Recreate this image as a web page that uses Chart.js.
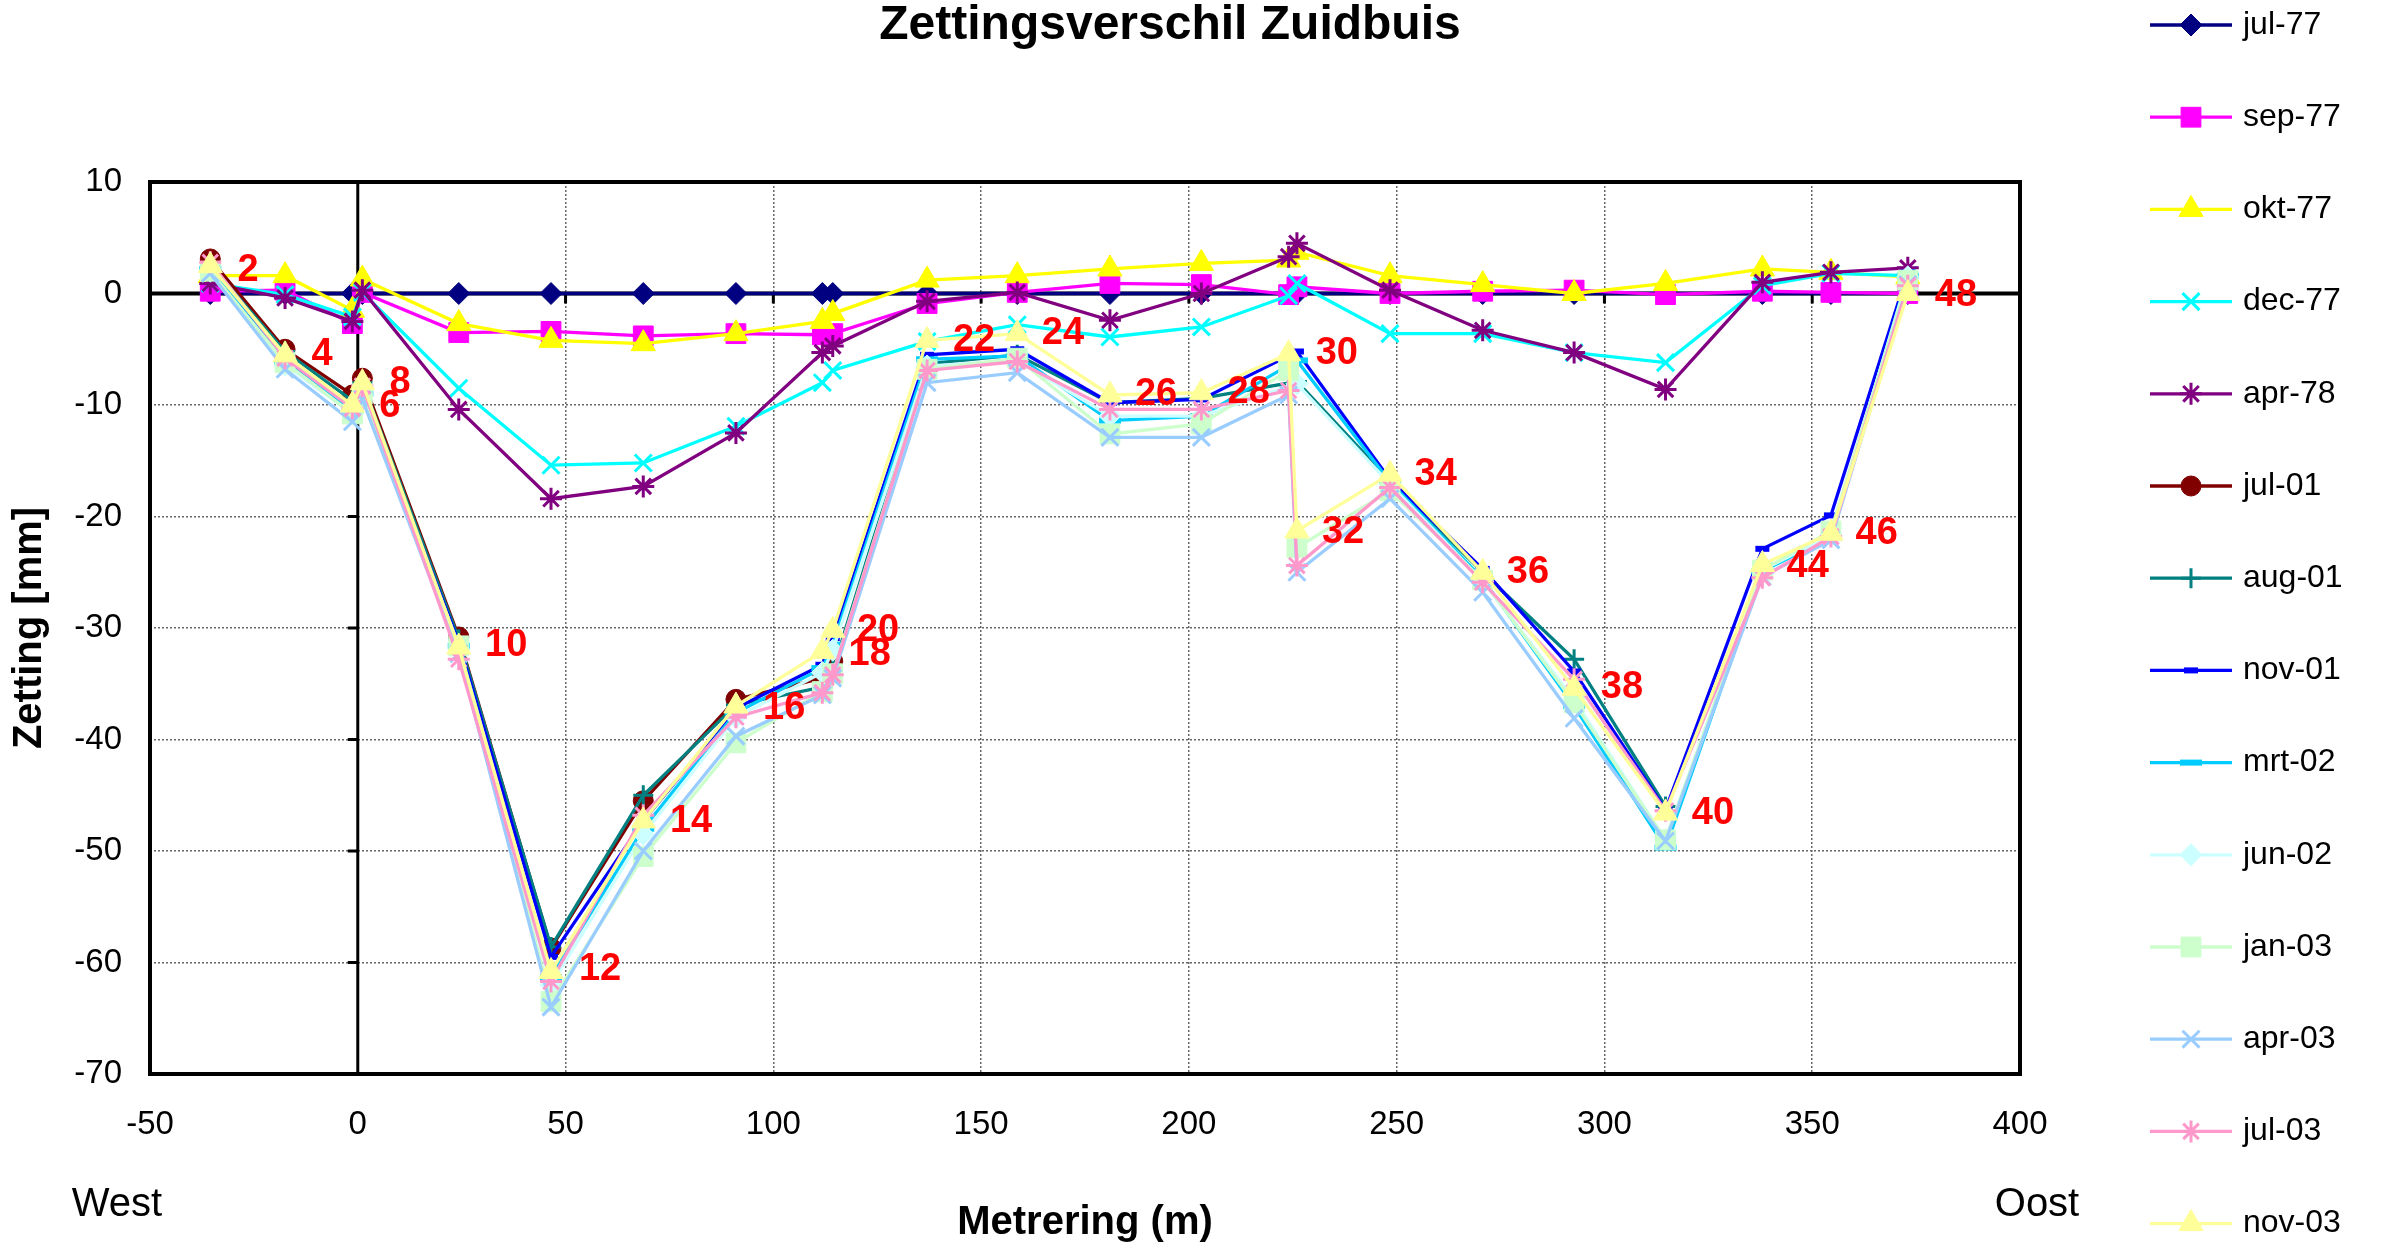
<!DOCTYPE html>
<html>
<head>
<meta charset="utf-8">
<title>Zettingsverschil Zuidbuis</title>
<script src="https://cdn.jsdelivr.net/npm/chart.js@4.4.0/dist/chart.umd.min.js"></script>
<style>
  html, body { margin: 0; padding: 0; background: #fff; }
  #wrap { position: relative; width: 2382px; height: 1247px; }
</style>
</head>
<body>
<div id="wrap"><canvas id="chart"></canvas></div>
<script>
// ---------------------- DATA ----------------------
const seriesNames = ["jul-77", "sep-77", "okt-77", "dec-77", "apr-78", "jul-01", "aug-01",
  "nov-01", "mrt-02", "jun-02", "jan-03", "apr-03", "jul-03", "nov-03"];

// metrering (m) of the measuring points
const xPoints77 = [-35.5, -17.5, -1.3, 1.1, 24.3, 46.5, 68.7, 91, 111.8, 114.3, 137, 158.7, 181, 203, 224, 226, 248.4, 270.7, 292.7, 314.7, 338, 354.5, 373];
const xPoints01 = [-35.5, -17.5, -1.3, 1.1, 24.3, 46.5, 68.7, 91, 111.8, 114.3, 137, 158.7, 181, 203, 226, 248.4, 270.7, 292.7, 314.7, 338, 354.5, 373];
const xPoints03 = [-35.5, -17.5, -1.3, 1.1, 24.3, 46.5, 68.7, 91, 111.8, 114.3, 137, 158.7, 181, 203, 224, 226, 248.4, 270.7, 292.7, 314.7, 338, 354.5, 373];

// zetting (mm)
const jul77 = [0, 0, 0, 0, 0, 0, 0, 0, 0, 0, 0, 0, 0, 0, 0, 0, 0, 0, 0, 0, 0, 0, 0];
const sep77 = [0.2, 0.3, -2.7, 0.1, -3.5, -3.4, -3.8, -3.6, -3.7, -3.6, -0.9, 0.1, 0.9, 0.8, -0.1, 0.6, 0, 0.2, 0.3, -0.1, 0.2, 0.1, 0];
const okt77 = [1.6, 1.6, -1.5, 1.3, -2.7, -4.2, -4.5, -3.6, -2.5, -1.8, 1.2, 1.6, 2.2, 2.7, 3.0, 3.7, 1.6, 0.8, 0, 0.9, 2.2, 1.9, 1.5];
const dec77 = [0.9, -0.1, -2.1, 0.1, -8.5, -15.4, -15.2, -11.9, -8.0, -6.9, -4.3, -2.8, -3.9, -3.0, -0.2, 0.9, -3.6, -3.6, -5.3, -6.2, 0.7, 1.8, 1.6];
const apr78 = [0.9, -0.4, -2.5, 0.3, -10.4, -18.4, -17.3, -12.5, -5.3, -4.7, -0.7, 0.1, -2.4, 0.0, 3.3, 4.5, 0.3, -3.3, -5.3, -8.6, 1.0, 1.9, 2.3];
const jul01 = [3.1, -5.0, -9.1, -7.6, -30.8, -58.7, -45.5, -36.4, -34.5, -33.0];
const aug01 = [2.6, -5.2, -9.6, -8.0, -31.0, -58.6, -45.0, -36.9, -35.3, -33.8, -6.3, -5.5, -9.8, -9.4, -7.9, -16.8, -25.0, -32.8, -46.0];
const nov01 = [2.3, -5.9, -10.2, -8.6, -31.3, -59.5, -47.3, -37.2, -33.3, -30.9, -5.5, -5.0, -9.8, -9.5, -5.2, -16.7, -24.7, -33.9, -46.3, -22.9, -19.9, 1.9];
const mrt02 = [2.2, -6.2, -10.5, -9.0, -31.6, -61.3, -48.0, -37.6, -33.6, -31.5, -5.9, -5.6, -11.4, -11.0, -6.0, -16.9, -25.6, -37.0, -49.7, -24.9, -21.9, 1.6];
const jun02 = [2.0, -6.4, -10.8, -9.2, -32.0, -62.0, -48.5, -38.0, -34.0, -32.0, -6.5, -6.0, -11.0, -11.0, -8.1, -17.1, -25.8, -36.4, -49.0, -24.8, -21.7, 1.5];
const jan03 = [2.0, -6.2, -10.8, -9.0, -31.6, -63.5, -50.5, -40.3, -35.7, -34.1, -6.8, -5.8, -12.6, -11.7, -6.9, -22.8, -17.7, -25.7, -36.7, -49.0, -24.8, -21.3, 1.2];
const apr03 = [1.8, -6.8, -11.5, -9.5, -32.3, -64.0, -50.0, -39.7, -36.0, -34.5, -8.0, -7.1, -12.9, -12.9, -9.1, -25.0, -18.4, -26.8, -38.1, -49.1, -25.4, -22.1, 0.8];
const jul03 = [2.8, -5.8, -10.3, -8.3, -32.8, -61.7, -46.8, -38.0, -35.8, -34.2, -6.9, -6.1, -10.4, -10.4, -8.7, -24.4, -17.4, -25.9, -34.6, -46.4, -25.5, -21.8, 0.7];
const nov03 = [2.5, -5.5, -10.0, -8.0, -31.7, -60.8, -47.3, -37.0, -32.1, -30.2, -4.2, -3.6, -9.1, -8.9, -5.4, -21.3, -16.2, -25.0, -35.4, -46.6, -24.3, -21.5, 0];

// red point numbers (placed in axis units)
const pointLabels = ["2", "4", "6", "8", "10", "12", "14", "16", "18", "20", "22", "24", "26", "28", "30", "32", "34", "36", "38", "40", "44", "46", "48"];
const pointLabelX = [-26.4, -8.6, 7.7, 10.2, 35.7, 58.3, 80.2, 102.6, 123.2, 125.2, 148.3, 169.7, 192.1, 214.4, 235.6, 237.1, 259.4, 281.6, 304.2, 326.1, 348.9, 365.5, 384.6];
const pointLabelY = [2.1, -5.5, -10.1, -8.0, -31.6, -60.6, -47.4, -37.2, -32.4, -30.2, -4.2, -3.6, -9.1, -8.9, -5.4, -21.4, -16.2, -25.0, -35.3, -46.6, -24.5, -21.5, -0.2];

const seriesX = [xPoints77, xPoints77, xPoints77, xPoints77, xPoints77, xPoints01, xPoints01,
  xPoints01, xPoints01, xPoints01, xPoints03, xPoints03, xPoints03, xPoints03];
const seriesY = [jul77, sep77, okt77, dec77, apr78, jul01, aug01, nov01, mrt02, jun02, jan03, apr03, jul03, nov03];

// ---------------------- STYLES ----------------------
const seriesColors = ["#000080", "#FF00FF", "#FFFF00", "#00FFFF", "#800080", "#800000", "#008080",
  "#0000FF", "#00CCFF", "#CCFFFF", "#CCFFCC", "#99CCFF", "#FF99CC", "#FFFF99"];
const seriesMarkers = ["rectRot", "rect", "triangle", "crossRot", "star", "circle", "cross",
  "line", "line", "rectRot", "rect", "crossRot", "star", "triangle"];
const seriesRadius = [11, 14, 14, 12, 11, 10, 10, 7, 11, 11, 14, 12, 11, 14];

const FONT = '"Liberation Sans", Arial, sans-serif';
Chart.defaults.font.family = FONT;
Chart.defaults.color = "#000";

function markerBorder(style) {
  if (style === "line") return 6;
  if (style === "cross" || style === "crossRot" || style === "star") return 3;
  return 1;
}

const datasets = seriesNames.map((name, i) => ({
  label: name,
  data: seriesY[i].map((v, k) => ({ x: seriesX[i][k], y: v })),
  borderColor: seriesColors[i],
  backgroundColor: seriesColors[i],
  borderWidth: 3.3,
  pointStyle: seriesMarkers[i],
  pointRadius: seriesRadius[i],
  pointBorderWidth: markerBorder(seriesMarkers[i]),
  pointBackgroundColor: seriesColors[i],
  pointBorderColor: seriesColors[i],
  tension: 0,
  clip: false,
  order: seriesNames.length - i,
}));

// ---------------------- DECORATION PLUGIN ----------------------
const decor = {
  id: "decor",
  beforeDatasetsDraw(chart) {
    const { ctx, chartArea: a, scales: { x, y } } = chart;
    const x0 = x.getPixelForValue(0);
    const y0 = y.getPixelForValue(0);
    ctx.save();
    ctx.strokeStyle = "#000";
    ctx.lineWidth = 3;
    ctx.beginPath();
    ctx.moveTo(x0, a.top);
    ctx.lineTo(x0, a.bottom);
    ctx.stroke();
    ctx.lineWidth = 4;
    ctx.beginPath();
    ctx.moveTo(a.left, y0);
    ctx.lineTo(a.right, y0);
    ctx.stroke();
    // small tick marks on the axes through the origin
    ctx.lineWidth = 3;
    ctx.beginPath();
    x.ticks.forEach((t) => {
      const px = x.getPixelForValue(t.value);
      ctx.moveTo(px, y0);
      ctx.lineTo(px, y0 + 10);
    });
    y.ticks.forEach((t) => {
      const py = y.getPixelForValue(t.value);
      ctx.moveTo(x0 - 10, py);
      ctx.lineTo(x0, py);
    });
    ctx.stroke();
    ctx.lineWidth = 4;
    ctx.strokeRect(a.left, a.top, a.right - a.left, a.bottom - a.top);
    ctx.restore();
  },
  afterDatasetsDraw(chart) {
    const { ctx, scales: { x, y } } = chart;
    ctx.save();
    ctx.font = "bold 38px " + FONT;
    ctx.fillStyle = "#FF0000";
    ctx.textAlign = "center";
    ctx.textBaseline = "middle";
    pointLabels.forEach((t, i) => {
      ctx.fillText(t, x.getPixelForValue(pointLabelX[i]), y.getPixelForValue(pointLabelY[i]));
    });
    ctx.restore();
  },
  afterDraw(chart) {
    const { ctx } = chart;
    ctx.save();
    ctx.fillStyle = "#000";
    ctx.textBaseline = "middle";
    ctx.textAlign = "center";
    ctx.font = "bold 48px " + FONT;
    ctx.fillText("Zettingsverschil Zuidbuis", 1170, 26);
    ctx.font = "40px " + FONT;
    ctx.fillText("West", 117, 1205);
    ctx.fillText("Oost", 2037, 1205);

    // legend: line with marker, then the label
    ctx.textAlign = "left";
    ctx.font = "32px " + FONT;
    chart.data.datasets.forEach((ds, i) => {
      const cy = 25 + i * 92.2;
      ctx.strokeStyle = ds.borderColor;
      ctx.fillStyle = ds.borderColor;
      ctx.lineWidth = 3.3;
      ctx.beginPath();
      ctx.moveTo(2150, cy);
      ctx.lineTo(2232, cy);
      ctx.stroke();
      ctx.lineWidth = ds.pointBorderWidth;
      Chart.helpers.drawPoint(ctx, {
        pointStyle: ds.pointStyle,
        radius: ds.pointRadius,
        borderWidth: ds.pointBorderWidth,
        rotation: 0,
      }, 2191, cy);
      ctx.fillStyle = "#000";
      ctx.fillText(ds.label, 2243, cy);
    });
    ctx.restore();
  },
};

// ---------------------- CHART ----------------------
new Chart(document.getElementById("chart"), {
  type: "line",
  data: { datasets },
  plugins: [decor],
  options: {
    responsive: true,
    maintainAspectRatio: false,
    animation: false,
    events: [],
    layout: { padding: { top: 182, right: 362, bottom: 0, left: 0 } },
    plugins: {
      legend: { display: false },
      title: { display: false },
      tooltip: { enabled: false },
    },
    scales: {
      x: {
        type: "linear",
        min: -50,
        max: 400,
        ticks: { stepSize: 50, font: { size: 33 }, color: "#000", padding: 31, maxRotation: 0 },
        grid: { color: "#666", lineWidth: 1.5, drawTicks: false },
        border: { display: false, dash: [2, 2] },
        title: {
          display: true,
          text: "Metrering (m)",
          font: { size: 40, weight: "bold" },
          color: "#000",
          padding: 0,
        },
        afterFit(scale) { scale.height = 173; },
      },
      y: {
        type: "linear",
        min: -70,
        max: 10,
        ticks: { stepSize: 10, font: { size: 33 }, color: "#000", padding: 28 },
        grid: { color: "#666", lineWidth: 1.5, drawTicks: false },
        border: { display: false, dash: [2, 2] },
        title: {
          display: true,
          text: "Zetting [mm]",
          font: { size: 40, weight: "bold" },
          color: "#000",
          padding: { top: 6, bottom: 0 },
        },
        afterFit(scale) { scale.width = 150; },
      },
    },
  },
});
</script>
</body>
</html>
